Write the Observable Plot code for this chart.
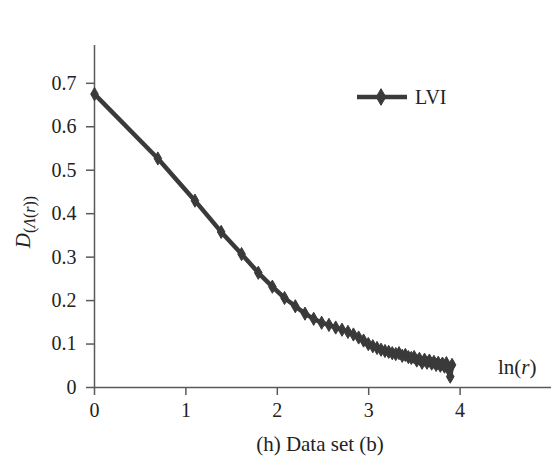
<!DOCTYPE html>
<html>
<head>
<meta charset="utf-8">
<script src="https://cdn.jsdelivr.net/npm/d3@7"></script>
<script src="https://cdn.jsdelivr.net/npm/@observablehq/plot@0.6"></script>
<style>
  html, body { margin: 0; padding: 0; background: white; }
  #chart { position: relative; width: 551px; height: 460px; }
</style>
</head>
<body>
<div id="chart"></div>
<script>
// ln(r) values (x) and D_(Λ(r)) values (y)
const lnR = [0, 0.693, 1.099, 1.386, 1.609, 1.792, 1.946, 2.079, 2.197, 2.303,
  2.398, 2.485, 2.565, 2.639, 2.708, 2.773, 2.833, 2.890, 2.944, 2.996,
  3.045, 3.091, 3.135, 3.178, 3.219, 3.258, 3.296, 3.332, 3.367, 3.401,
  3.434, 3.466, 3.497, 3.526, 3.555, 3.584, 3.611, 3.638, 3.664, 3.689,
  3.714, 3.738, 3.761, 3.784, 3.807, 3.829, 3.850, 3.871, 3.892, 3.912];
const dValues = [0.675, 0.527, 0.43, 0.358, 0.307, 0.264, 0.232, 0.206, 0.187, 0.17,
  0.158, 0.149, 0.144, 0.138, 0.133, 0.128, 0.122, 0.115, 0.108, 0.1,
  0.095, 0.091, 0.087, 0.084, 0.082, 0.079, 0.077, 0.079, 0.073, 0.075,
  0.07, 0.068, 0.07, 0.062, 0.066, 0.057, 0.064, 0.057, 0.062, 0.055,
  0.059, 0.052, 0.057, 0.05, 0.055, 0.048, 0.056, 0.042, 0.025, 0.052];
const seriesName = "LVI";
const xTicks = [0, 1, 2, 3, 4];
const yTicks = [0, 0.1, 0.2, 0.3, 0.4, 0.5, 0.6, 0.7];

const data = lnR.map((x, i) => ({x, y: dValues[i]}));
const axisColor = "#5a5a5a";
const lineColor = "#3a3a3a";
const font = "'Liberation Serif', 'Times New Roman', serif";

const chart = Plot.plot({
  width: 551,
  height: 460,
  marginLeft: 94,
  marginRight: 0,
  marginTop: 45,
  marginBottom: 73,
  style: {fontFamily: font, fontSize: "20px", color: "#222", background: "white", overflow: "visible"},
  x: {domain: [0, 5]},
  y: {domain: [0, 0.787]},
  marks: [
    Plot.axisX(xTicks, {tickSize: 8, tickPadding: 7, stroke: axisColor, strokeWidth: 1.5, fill: "#222", fontSize: 20, label: null, tickFormat: d => String(d)}),
    Plot.axisY(yTicks, {tickSize: 8, tickPadding: 10, stroke: axisColor, strokeWidth: 1.5, fill: "#222", fontSize: 20, label: null, tickFormat: d => d === 0 ? "0" : d.toFixed(1)}),
    Plot.ruleY([0], {stroke: axisColor, strokeWidth: 1.5}),
    Plot.ruleX([0], {stroke: axisColor, strokeWidth: 1.5}),
    Plot.line(data, {x: "x", y: "y", stroke: lineColor, strokeWidth: 4.5, strokeLinejoin: "round"}),
    Plot.dot(data, {x: "x", y: "y", symbol: "diamond", r: 4, fill: lineColor, stroke: lineColor, strokeWidth: 1, strokeLinejoin: "round"})
  ]
});

const svg = d3.select(chart);

// legend
const lg = svg.append("g").attr("class", "legend");
lg.append("line").attr("x1", 357).attr("x2", 407).attr("y1", 97).attr("y2", 97)
  .attr("stroke", lineColor).attr("stroke-width", 4.5);
lg.append("path").attr("d", d3.symbol(d3.symbolDiamond, 80)())
  .attr("transform", "translate(381,97)").attr("fill", lineColor)
  .attr("stroke", lineColor).attr("stroke-linejoin", "round");
lg.append("text").attr("x", 415).attr("y", 104).attr("font-size", 20)
  .attr("text-anchor", "start")
  .attr("font-family", font).attr("fill", "#222").text(seriesName);

// x label ln(r)
const xl = svg.append("text").attr("x", 498).attr("y", 374).attr("font-size", 21)
  .attr("text-anchor", "start")
  .attr("font-family", font).attr("fill", "#222");
xl.append("tspan").text("ln(");
xl.append("tspan").attr("font-style", "italic").text("r");
xl.append("tspan").text(")");

// caption
svg.append("text").attr("x", 320).attr("y", 451).attr("text-anchor", "middle")
  .attr("font-size", 21).attr("font-family", font).attr("fill", "#222")
  .text("(h) Data set (b)");

// y label D_(Λ(r))
const yl = svg.append("text").attr("transform", "translate(30,222) rotate(-90)")
  .attr("text-anchor", "middle").attr("font-family", font).attr("fill", "#222");
yl.append("tspan").attr("font-style", "italic").attr("font-size", 21).text("D");
const sub = yl.append("tspan").attr("font-size", 16).attr("dy", 5);
sub.append("tspan").text("(");
sub.append("tspan").attr("font-style", "italic").text("Λ");
sub.append("tspan").text("(");
sub.append("tspan").attr("font-style", "italic").text("r");
sub.append("tspan").text("))");

document.getElementById("chart").appendChild(chart);
</script>
</body>
</html>
